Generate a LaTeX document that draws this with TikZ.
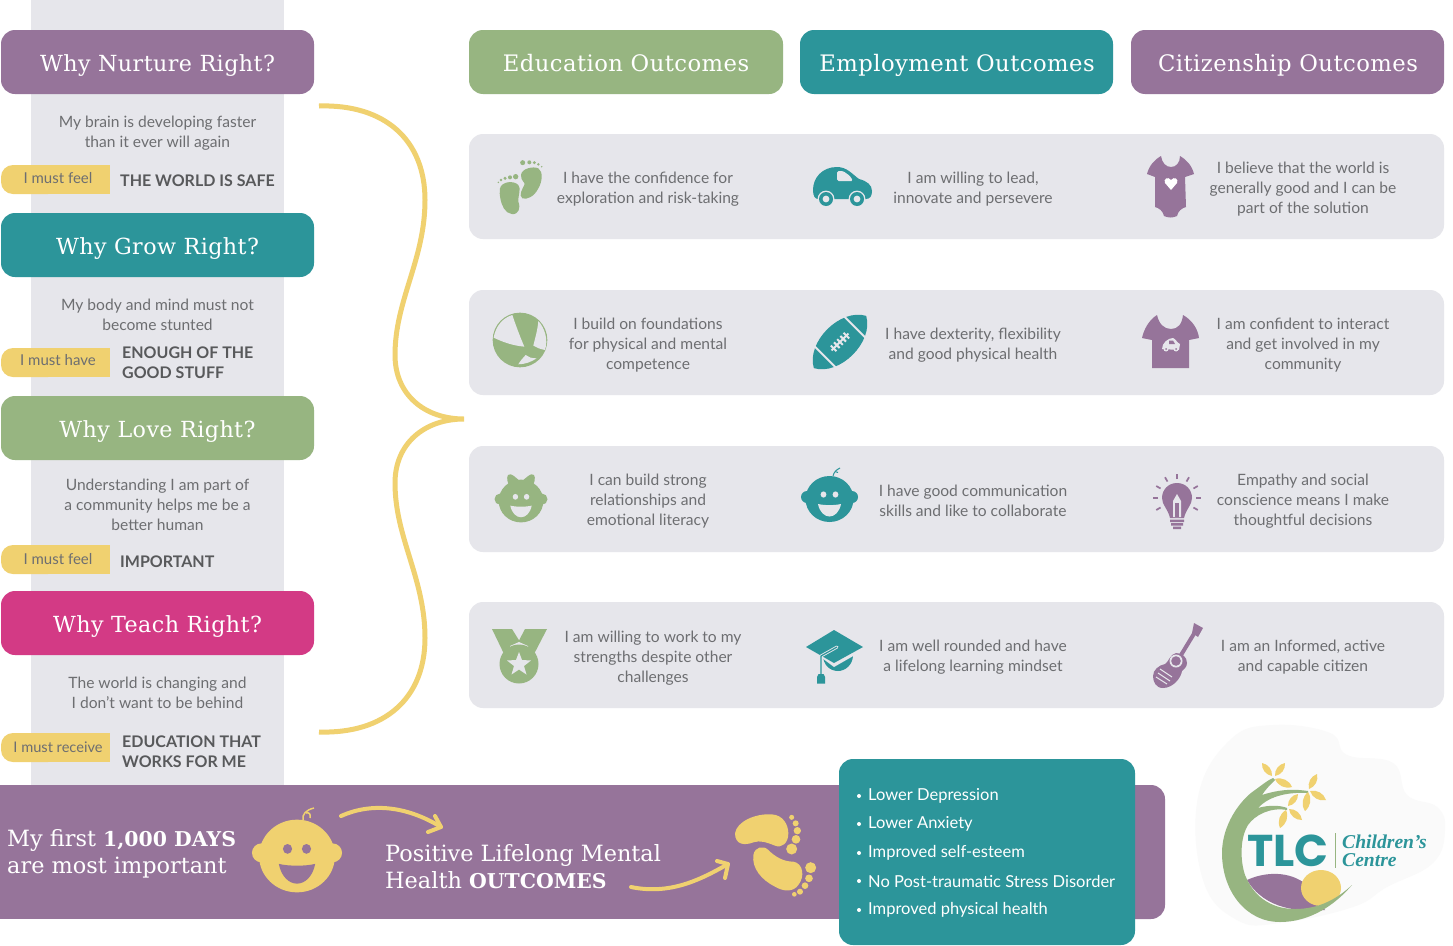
\documentclass[tikz,border=0pt]{standalone}
\usepackage{fontspec}
\usetikzlibrary{calc}
\setmainfont{Lato}
\newfontfamily\slabf[LetterSpace=2]{DejaVu Serif}
\newfontfamily\bandf{DejaVu Serif}
\newfontfamily\logof{Liberation Serif}
\newfontfamily\tlcf{Poppins}
\definecolor{cpurple}{HTML}{96749A}
\definecolor{cteal}{HTML}{2C959A}
\definecolor{cgreen}{HTML}{97B581}
\definecolor{cpink}{HTML}{D33A85}
\definecolor{cyellow}{HTML}{F0D170}
\definecolor{cpanel}{HTML}{E6E6EB}
\definecolor{ctext}{HTML}{6D6E71}
\definecolor{cbold}{HTML}{58595B}
\definecolor{cblob}{HTML}{FAFAFA}
\newcommand{\bandbold}[1]{{\bfseries\fontsize{20.4}{27}\selectfont #1}}
\tikzset{
  x=1pt,y=-1pt,
  hdrbox/.style={anchor=base,inner sep=0pt,text=white,font=\slabf\fontsize{22.2}{26}\selectfont},
  outbox/.style={hdrbox,font=\slabf\fontsize{22.7}{26}\selectfont},
  panelbox/.style={rounded corners=14pt,fill=cpanel},
  bodytext/.style={align=center,text=ctext,inner sep=0pt,font=\fontsize{15.6}{20}\selectfont},
  boldtext/.style={align=left,anchor=west,text=cbold,inner sep=0pt,font=\bfseries\fontsize{16}{20}\selectfont},
  tagtext/.style={text=ctext,inner sep=0pt,font=\fontsize{15}{18}\selectfont},
  bandtext/.style={align=left,anchor=west,text=white,inner sep=0pt,font=\bandf\fontsize{22.4}{27}\selectfont},
  listtext/.style={anchor=west,text=white,inner sep=0pt,font=\fontsize{16.5}{20}\selectfont},
  stroke/.style={draw=cyellow,line width=4pt,line cap=round,line join=round}
}
% baby head, centred on the origin
\newcommand{\babyicon}[5]{%
  \begin{scope}[shift={(#1,#2)},scale=#3]
    \fill[#4] (0,0) ellipse (24 and 23);
    \fill[#4] (-22.5,-2) circle (6) (22.5,-2) circle (6);
    \fill[#5] (-6,-4.5) ellipse (2.9 and 3.1) (6,-4.5) ellipse (2.9 and 3.1);
    \fill[#5] (-11.5,5) .. controls (-5,6.5) and (5,6.5) .. (11.5,5) .. controls (10,13) and (5,17.5) .. (0,17.5) .. controls (-5,17.5) and (-10,13) .. (-11.5,5) -- cycle;
  \end{scope}}
\newcommand{\petal}[4]{\fill[cyellow] (#1,#2) to[bend left=42] (#3,#4) to[bend left=42] (#1,#2) -- cycle;}
\begin{document}
\begin{tikzpicture}
\useasboundingbox (0,0) rectangle (1453,945);
\fill[white] (0,0) rectangle (1453,945);
% left column
\fill[cpanel] (31,0) rectangle (284,785);
\fill[cpurple,rounded corners=14pt] (1,30) rectangle (314,94);
\fill[cteal,rounded corners=14pt] (1,213) rectangle (314,277);
\fill[cgreen,rounded corners=14pt] (1,396) rectangle (314,460);
\fill[cpink,rounded corners=14pt] (1,591) rectangle (314,655);
\fill[cgreen,rounded corners=14pt] (469,30) rectangle (783,94);
\fill[cteal,rounded corners=14pt] (800,30) rectangle (1113,94);
\fill[cpurple,rounded corners=14pt] (1131,30) rectangle (1444,94);
\node[hdrbox] (hnurture) at (157.5,71) {Why Nurture Right?};
\node[hdrbox] (hgrow) at (157.5,254) {Why Grow Right?};
\node[hdrbox] (hlove) at (157.5,437) {Why Love Right?};
\node[hdrbox] (hteach) at (157.5,632) {Why Teach Right?};
\node[outbox] (oedu) at (626,71) {Education Outcomes};
\node[outbox] (oemp) at (957,71) {Employment Outcomes};
\node[outbox] (ocit) at (1288,71) {Citizenship Outcomes};
\node[bodytext] (tnurture) at (157.5,133) {My brain is developing faster\\than it ever will again};
\node[bodytext] (tgrow) at (157.5,315) {My body and mind must not\\become stunted};
\node[bodytext] (tlove) at (157.5,505) {Understanding I am  part of\\a community helps me be a\\better human};
\node[bodytext] (tteach) at (157.5,693) {The world is changing and\\I don’t want to be behind};
% yellow tags
\foreach \yy in {165,348,545,733}{
  \fill[cyellow,rounded corners=12pt] (1,\yy) rectangle (60,\yy+29);
  \fill[cyellow] (40,\yy) rectangle (110,\yy+29);
}
\node[tagtext] (tag1) at (58,178) {I must feel};
\node[tagtext] (tag2) at (58,360) {I must have};
\node[tagtext] (tag3) at (58,559) {I must feel};
\node[tagtext,font=\fontsize{14.6}{18}\selectfont] (tag4) at (58,747) {I must receive};
\node[boldtext] (b1) at (120,180.5) {THE WORLD IS SAFE};
\node[boldtext] (b2) at (122,362.5) {ENOUGH OF THE\\GOOD STUFF};
\node[boldtext] (b3) at (120,561.5) {IMPORTANT};
\node[boldtext] (b4) at (122,751.5) {EDUCATION THAT\\WORKS FOR ME};
% brace
\coordinate (bracetop) at (319,106);
\coordinate (bracetip) at (464,419);
\coordinate (bracebot) at (319,732);
\draw[cyellow,line width=5pt] (bracetop) .. controls (385,104) and (425,140) .. (425,200)
  .. controls (425,260) and (395,300) .. (395,355)
  .. controls (395,395) and (425,419) .. (bracetip)
  .. controls (425,419) and (395,443) .. (395,483)
  .. controls (395,538) and (425,578) .. (425,638)
  .. controls (425,698) and (385,734) .. (bracebot);
% panels
\fill[panelbox] (469,134) rectangle (1444,239);
\fill[panelbox] (469,290) rectangle (1444,395);
\fill[panelbox] (469,446) rectangle (1444,552);
\fill[panelbox] (469,602) rectangle (1444,708);
% row 1
\node[bodytext] (r1a) at (648,189) {I have the confidence for\\exploration and risk-taking};
\node[bodytext] (r1b) at (973,189) {I am willing to lead,\\innovate and persevere};
\node[bodytext] (r1c) at (1303,189) {I believe that the world is\\generally good and I can be\\part of the solution};
% row 2
\node[bodytext] (r2a) at (648,345) {I build on foundations\\for physical and mental\\competence};
\node[bodytext] (r2b) at (973,345) {I have dexterity, flexibility\\and good physical health};
\node[bodytext] (r2c) at (1303,345) {I am confident to interact\\and get involved in my\\community};
% row 3
\node[bodytext] (r3a) at (648,501) {I can build strong\\relationships and\\emotional literacy};
\node[bodytext] (r3b) at (973,500.5) {I have good communication\\skills and like to collaborate};
\node[bodytext] (r3c) at (1303,501) {Empathy and social\\conscience means I make\\thoughtful decisions};
% row 4
\node[bodytext] (r4a) at (653,658) {I am willing to work to my\\strengths despite other\\challenges};
\node[bodytext] (r4b) at (973,657) {I am well rounded and have\\a lifelong learning mindset};
\node[bodytext] (r4c) at (1303,657) {I am an Informed, active\\and capable citizen};
% icon: footprints
\begin{scope}[shift={(485,150)},scale=0.3333]
  \fill[cgreen] (108,75) .. controls (110,55) and (145,48) .. (160,55) .. controls (175,65) and (172,95) .. (160,115) .. controls (148,140) and (125,150) .. (112,145) .. controls (100,135) and (112,118) .. (118,105) .. controls (122,95) and (107,95) .. (108,75) -- cycle;
  \fill[cgreen] (113,38) circle (7.5) (133,37) circle (6) (148,38) circle (5) (160,43) circle (4) (170,50) circle (2.5);
  \fill[cgreen] (45,115) .. controls (50,95) and (85,90) .. (100,105) .. controls (110,115) and (98,140) .. (100,155) .. controls (108,175) and (100,195) .. (80,192) .. controls (60,190) and (50,165) .. (47,150) .. controls (44,135) and (43,125) .. (45,115) -- cycle;
  \fill[cgreen] (92,80) circle (8) (75,82) circle (6) (60,85) circle (5) (48,90) circle (4) (40,97) circle (2.5);
\end{scope}
% icon: car
\fill[cteal] (813,190) .. controls (813,178) and (822,167) .. (837,167) .. controls (847,167) and (852,174) .. (859,179) .. controls (867,181) and (872,185) .. (872,191) .. controls (872,196) and (870,199) .. (866,199) -- (818,199) .. controls (815,199) and (813,196) .. (813,190) -- cycle;
\fill[cpanel,rounded corners=1.5pt] (837,171) -- (843,171) -- (850,176) -- (853,181) -- (837,181) -- cycle;
\foreach \wx in {826,857}{
  \fill[cpanel] (\wx,199) circle (8.4);
  \fill[cteal] (\wx,199) circle (7);
  \fill[cpanel] (\wx,199) circle (3.4);
}
% icon: onesie
\fill[cpurple] (1161,156) .. controls (1162,163) and (1166,167) .. (1171,167) .. controls (1176,167) and (1180,163) .. (1180,156) .. controls (1187,160) and (1192,166) .. (1194,174) -- (1185,177) -- (1186,207) .. controls (1182,208) and (1178,211) .. (1177,216) .. controls (1173,218) and (1168,218) .. (1164,216) .. controls (1163,211) and (1159,208) .. (1155,207) -- (1155,177) -- (1147,174) .. controls (1149,166) and (1154,160) .. (1161,156) -- cycle;
\fill[white] (1171,190) -- (1165,183) .. controls (1163,179) and (1168,176) .. (1171,180) .. controls (1174,176) and (1179,179) .. (1177,183) -- cycle;
% icon: ball
\begin{scope}[shift={(485,305)},scale=0.3333]
  \fill[cgreen] (105,105) circle (82);
  \fill[cpanel] (26,98) .. controls (32,62) and (55,38) .. (82,30) .. controls (92,60) and (105,95) .. (118,125) .. controls (85,122) and (55,112) .. (26,98) -- cycle;
  \fill[cpanel] (160,48) .. controls (180,70) and (190,105) .. (180,135) .. controls (165,132) and (155,128) .. (145,122) .. controls (150,100) and (158,75) .. (160,48) -- cycle;
  \fill[cpanel] (122,150) .. controls (130,157) and (140,160) .. (155,160) .. controls (140,170) and (120,178) .. (100,178) .. controls (105,168) and (115,158) .. (122,150) -- cycle;
\end{scope}
% icon: football
\begin{scope}[shift={(840,342)},rotate=45]
  \fill[cteal] (-37,0) .. controls (-24,-24) and (24,-24) .. (37,0) .. controls (24,24) and (-24,24) .. (-37,0) -- cycle;
  \draw[cpanel,line width=2pt] (-21,-19) -- (-21,19) (21,-19) -- (21,19);
  \draw[cpanel,line width=2pt] (-12,0) -- (12,0);
  \foreach \sx in {-9,-4.5,0,4.5,9}{\draw[cpanel,line width=2pt] (\sx,-4) -- (\sx,4);}
\end{scope}
% icon: t-shirt
\fill[cpurple] (1157,315) .. controls (1159,324) and (1164,329) .. (1171,329) .. controls (1178,329) and (1182,324) .. (1183,315) .. controls (1192,320) and (1198,329) .. (1199,338) -- (1189,340) -- (1189,368) -- (1152,368) -- (1152,340) -- (1142,338) .. controls (1144,329) and (1149,320) .. (1157,315) -- cycle;
\fill[cpanel] (1162,349) .. controls (1162,343) and (1168,338) .. (1173,338) .. controls (1176,339) and (1177,343) .. (1180,344) -- (1179,350) -- cycle;
\fill[cpurple] (1169,340.5) -- (1173,340.5) -- (1175,344) -- (1169,344) -- cycle;
\fill[cpanel] (1166,349) circle (2.5) (1176,349) circle (2.5);
\fill[cpurple] (1166,349) circle (1) (1176,349) circle (1);
% icon: girl baby
\babyicon{521}{501}{0.93}{cgreen}{cpanel}
\fill[cgreen] (521,482) .. controls (516,478) and (511,472) .. (508,475) .. controls (506,478) and (508,484) .. (510,487) -- (532,487) .. controls (534,484) and (536,478) .. (534,475) .. controls (531,472) and (526,478) .. (521,482) -- cycle;
% icon: boy baby
\babyicon{829.5}{499}{1}{cteal}{cpanel}
\draw[cteal,line width=1pt] (833,476) .. controls (834,472) and (836,470) .. (840,468);
\draw[cteal,line width=1pt] (835,471.5) -- (838,472.5);
% icon: bulb
\fill[cpurple] (1177,483) .. controls (1186,483) and (1192,490) .. (1192,498) .. controls (1192,505) and (1186,509) .. (1184,518) -- (1170,518) .. controls (1168,509) and (1162,505) .. (1162,498) .. controls (1162,490) and (1168,483) .. (1177,483) -- cycle;
\fill[cpurple] (1170,519.5) rectangle (1184,522) (1171,523) rectangle (1183,525.5) (1173,526.5) rectangle (1181,529);
\fill[cpanel] (1177,494) -- (1181,501) -- (1181,517) -- (1173,517) -- (1173,501) -- cycle;
\fill[cpurple] (1175,503) rectangle (1179,517);
\foreach \ang in {90,60,30,0,-30,120,150,180,210}{
  \draw[cpurple,line width=1.7pt] ($(1177,498)+(\ang:19 and -19)$) -- ($(1177,498)+(\ang:24 and -24)$);
}
% icon: medal
\fill[cgreen] (492,629) -- (512,629) -- (525,650) -- (505,656) -- cycle;
\fill[cgreen] (547,629) -- (525,629) -- (514,650) -- (533,656) -- cycle;
\fill[cpanel] (510,649) -- (519,645) -- (528,649) -- (528,646) -- (519,642) -- (510,646) -- cycle;
\fill[cgreen] (519,664) circle (19.5);
\fill[cpanel] (519,652) -- (522,660) -- (531,660.5) -- (524,666) -- (526.5,674.5) -- (519,669.5) -- (511.5,674.5) -- (514,666) -- (507,660.5) -- (516,660) -- cycle;
% icon: mortarboard
\fill[cteal] (823,655) -- (853,655) .. controls (853,665) and (845,671) .. (838,671) .. controls (830,671) and (823,665) .. (823,655) -- cycle;
\fill[cpanel] (822,650) -- (834,662.5) -- (855,650) -- (855,655) -- (834,667) -- (822,658) -- cycle;
\fill[cteal] (834,630) -- (863,647) -- (834,663) -- (806,647) -- cycle;
\draw[cpanel,line width=3pt,line cap=round,line join=round] (837,647) -- (821,656) -- (821,674);
\draw[cteal,line width=1.2pt,line join=round] (837,647) -- (821,656) -- (821,674);
\fill[cteal] (818.5,674) -- (823.5,674) -- (825,677) -- (825,683.5) -- (817,683.5) -- (817,677) -- cycle;
% icon: guitar
\fill[cpurple] (1176,653) .. controls (1182,653) and (1187,657) .. (1187,663) .. controls (1187,667) and (1184,669) .. (1182,671) .. controls (1181,678) and (1173,688) .. (1163,688) .. controls (1156,688) and (1153,682) .. (1153,676) .. controls (1153,670) and (1159,665) .. (1165,664) .. controls (1168,663) and (1170,654) .. (1176,653) -- cycle;
\draw[cpurple,line width=4pt] (1178,660) -- (1195,632);
\fill[cpurple] (1194,623) -- (1203,628) -- (1198,637) -- (1192,633) -- cycle;
\fill[cpanel] (1176,661) circle (6.5);
\fill[cpurple] (1176,661) circle (4.8);
\draw[cpanel,line width=1pt] (1160,669) -- (1172,677) (1158,673) -- (1170,681) (1156,677) -- (1167,684);
% bottom band
\fill[cpurple,rounded corners=14pt] (1100,785) rectangle (1165,919);
\fill[cpurple] (0,785) rectangle (1130,919);
\node[bandtext] (band1) at (7,854) {My first \bandbold{1,000 DAYS}\\are most important};
\node[bandtext] (band2) at (385,866.5) {Positive Lifelong Mental\\Health \bandbold{OUTCOMES}};
\babyicon{297}{856}{1.58}{cyellow}{cpurple}
\draw[cyellow,line width=1.5pt] (303,820) .. controls (302,814) and (306,810) .. (314,808);
\draw[cyellow,line width=1.5pt] (306,813) .. controls (309,812) and (311,814) .. (310,818);
\coordinate (arrowa) at (341,816);
\coordinate (arrowb) at (441,827);
\coordinate (arrowc) at (631,887);
\coordinate (arrowd) at (728,864);
\draw[stroke] (arrowa) .. controls (370,803) and (405,805) .. (arrowb);
\draw[stroke] (435,816) -- (arrowb) -- (428,832);
\draw[stroke] (arrowc) .. controls (670,895) and (700,880) .. (arrowd);
\draw[stroke] (717,861) -- (arrowd) -- (725,878);
% big feet
\begin{scope}[shift={(725,805)},scale=0.3333]
  \fill[cyellow] (30,85) .. controls (35,50) and (90,25) .. (140,28) .. controls (175,30) and (190,60) .. (190,85) .. controls (190,115) and (170,130) .. (150,122) .. controls (125,112) and (105,105) .. (85,112) .. controls (60,122) and (30,120) .. (30,85) -- cycle;
  \fill[cyellow] (200,37) circle (7.5) (212,55) circle (9) (217,77) circle (11) (213,103) circle (13) (200,132) circle (16.5);
  \fill[cyellow] (85,150) .. controls (90,125) and (115,120) .. (130,135) .. controls (150,155) and (175,170) .. (205,170) .. controls (235,175) and (240,215) .. (220,240) .. controls (205,262) and (175,260) .. (150,245) .. controls (110,225) and (80,190) .. (85,150) -- cycle;
  \fill[cyellow] (257,188) circle (16.5) (252,220) circle (11.5) (240,242) circle (10) (225,260) circle (9) (208,268) circle (7);
\end{scope}
% teal list box
\fill[cteal,rounded corners=14pt] (839,759) rectangle (1135,945);
\foreach \nm/\ly/\tx in {l1/796/Lower Depression,l2/824/Lower Anxiety,l3/853/Improved self-esteem,l4/881/No Post-traumatic Stress Disorder,l5/910/Improved physical health}{
  \fill[white] (859,\ly) circle (2);
  \node[listtext] (\nm) at (868,\ly) {\tx};
}
% logo
\fill[cblob] plot[smooth cycle,tension=0.7] coordinates {(1198,797) (1230,740) (1273,725) (1330,733) (1347,755) (1393,763) (1407,795) (1437,807) (1445,830) (1433,863) (1387,887) (1353,907) (1280,923) (1237,920) (1203,880)};
\fill[cpurple] (1247,880) .. controls (1262,873) and (1285,870) .. (1303,882) -- (1325,910) .. controls (1300,912) and (1265,910) .. (1247,880) -- cycle;
\fill[cyellow] (1321,888) ellipse (20 and 18);
\fill[cgreen] (1352,885) .. controls (1335,905) and (1310,922) .. (1280,922) .. controls (1245,922) and (1222,890) .. (1222,853) .. controls (1222,825) and (1240,800) .. (1255,790) .. controls (1262,785) and (1268,780) .. (1273,778) -- (1275,780) .. controls (1270,785) and (1265,790) .. (1262,795) .. controls (1280,789) and (1295,789) .. (1308,791) -- (1308,793) .. controls (1290,792) and (1270,795) .. (1258,808) .. controls (1268,805) and (1280,805) .. (1287,808) -- (1287,810) .. controls (1270,807) and (1255,815) .. (1248,825) .. controls (1240,838) and (1240,860) .. (1245,875) .. controls (1255,900) and (1275,909) .. (1295,909) .. controls (1320,909) and (1338,898) .. (1352,885) -- cycle;
\petal{1272}{776}{1262}{763}
\petal{1275}{776}{1285}{763}
\petal{1275}{779}{1292}{787}
\petal{1309}{789}{1317}{774}
\petal{1310}{791}{1326}{800}
\petal{1308}{792}{1305}{811}
\petal{1288}{806}{1298}{794}
\petal{1289}{809}{1302}{820}
\petal{1286}{810}{1280}{828}
\node[anchor=west,inner sep=0pt,text=cteal,font=\tlcf\bfseries\fontsize{44.5}{44}\selectfont] (tlc) at (1247,851) {TLC};
\draw[cgreen,line width=0.8pt] (1335,833) -- (1335,868);
\node[anchor=west,align=left,inner sep=0pt,text=cteal,font=\logof\bfseries\itshape\fontsize{19.6}{18}\selectfont] (ch) at (1342,851) {Children’s\\Centre};
\end{tikzpicture}
\end{document}
